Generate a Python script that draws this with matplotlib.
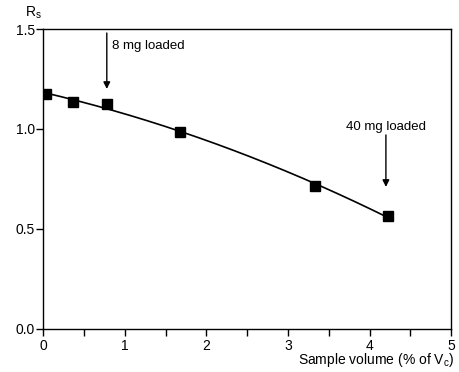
import numpy as np
import matplotlib.pyplot as plt
from matplotlib.ticker import MultipleLocator

plt.rcParams['font.family'] = ['Liberation Sans', 'DejaVu Sans']

# resolution vs. sample volume
sample_volume = [0.03, 0.37, 0.78, 1.68, 3.33, 4.22]
resolution = [1.175, 1.135, 1.125, 0.985, 0.715, 0.565]

# load annotations: (x, arrow top, arrow tip, label)
loads = [(0.78, 1.48, 1.20, '8 mg loaded'),
         (4.20, 0.97, 0.71, '40 mg loaded')]

fig = plt.figure(figsize=(4.59, 3.72), dpi=100)
ax = fig.add_axes([0.094, 0.116, 0.889, 0.806])

# smooth quadratic fit through the points
coef = np.polyfit(sample_volume, resolution, 2)
xs = np.linspace(0, max(sample_volume), 200)
ax.plot(xs, np.polyval(coef, xs), color='black', lw=1.2)
ax.plot(sample_volume, resolution, 's', color='black', ms=6.5)

for x, top, tip, label in loads:
    ax.annotate('', xy=(x, tip), xytext=(x, top),
                arrowprops=dict(arrowstyle='-|>', color='black', lw=1.0,
                                mutation_scale=10, shrinkA=0, shrinkB=0))
ax.text(0.84, 1.415, loads[0][3], fontsize=9.5, va='center', ha='left')
ax.text(4.2, 1.01, loads[1][3], fontsize=9.5, va='center', ha='center')

ax.set_xlim(0, 5)
ax.set_ylim(0, 1.5)
ax.set_xticks(range(6))
ax.xaxis.set_minor_locator(MultipleLocator(0.5))
ax.set_yticks([0, 0.5, 1.0, 1.5])
ax.set_yticklabels(['0.0', '0.5', '1.0', '1.5'])
ax.tick_params(axis='both', which='both', direction='out', labelsize=10,
               width=1.0)
ax.tick_params(axis='x', which='major', length=5, pad=2)
ax.tick_params(axis='x', which='minor', length=5)
ax.tick_params(axis='y', length=5, pad=1)
for sp in ax.spines.values():
    sp.set_linewidth(1.0)

fig.text(0.072, 0.965, r'R$_\mathregular{s}$', fontsize=10, ha='center', va='center')
fig.text(0.99, 0.032, r'Sample volume (% of V$_\mathregular{c}$)', fontsize=10,
         ha='right', va='center')

fig.savefig('out.png', dpi=100)
